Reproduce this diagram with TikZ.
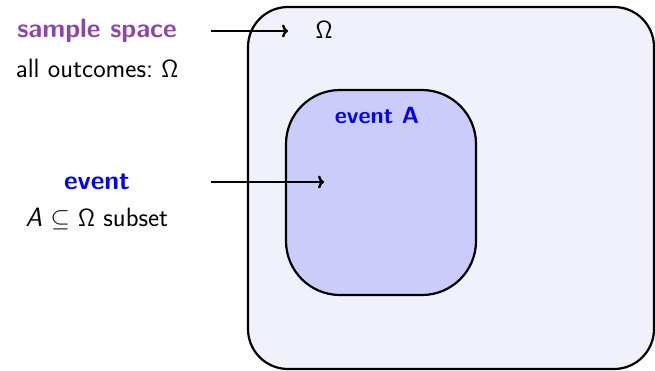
\documentclass[tikz,border=0pt]{standalone}
\usepackage{amssymb}
\usetikzlibrary{arrows.meta}
\definecolor{spacepurple}{RGB}{142,68,173}
\definecolor{outerfill}{RGB}{241,241,252}
\definecolor{innerfill}{RGB}{204,204,250}
\begin{document}
\begin{tikzpicture}[x=1pt,y=-1pt,
  every node/.style={font=\fontsize{26.5}{32}\selectfont\sffamily, inner sep=0pt},
  setbox/.style={draw=black, line width=2.2pt},
  conn/.style={-{To[length=6pt,width=13pt]}, line width=2.4pt},
  lbl/.style={anchor=base}]
\useasboundingbox (0,0) rectangle (655,370);
% sample space and the event inside it
\draw[setbox, fill=outerfill, rounded corners=40pt] (248,7) rectangle (654,369);
\node (omegaBox) [inner sep=0pt, minimum width=406pt, minimum height=362pt] at (451,188) {};
\draw[setbox, fill=innerfill, rounded corners=54pt] (286,90) rectangle (476,295);
\node (eventBox) [inner sep=0pt, minimum width=190pt, minimum height=205pt] at (381,192.5) {};
\node (omegaLbl) [lbl] at (324,38) {$\mathsf{\Omega}$};
\node (eventLbl) [lbl, text=blue, font=\fontsize{23.5}{28}\selectfont\sffamily] at (377,123) {\bfseries event A};
% captions on the left
\node (ssTitle) [lbl, text=spacepurple] at (97,37) {\bfseries sample space};
\node (ssDesc) [lbl] at (97,77) {all outcomes:\ $\mathsf{\Omega}$};
\node (evTitle) [lbl, text=blue] at (97,189) {\bfseries event};
\node (evDesc) [lbl] at (97,226) {\textit{A} $\subseteq$ $\mathsf{\Omega}$ subset};
% pointers
\coordinate (ssTail) at (211,31);
\coordinate (ssHead) at (288,31);
\coordinate (evTail) at (211,182);
\coordinate (evHead) at (324,182);
\draw[conn] (ssTail) -- (ssHead);
\draw[conn] (evTail) -- (evHead);
\end{tikzpicture}
\end{document}
